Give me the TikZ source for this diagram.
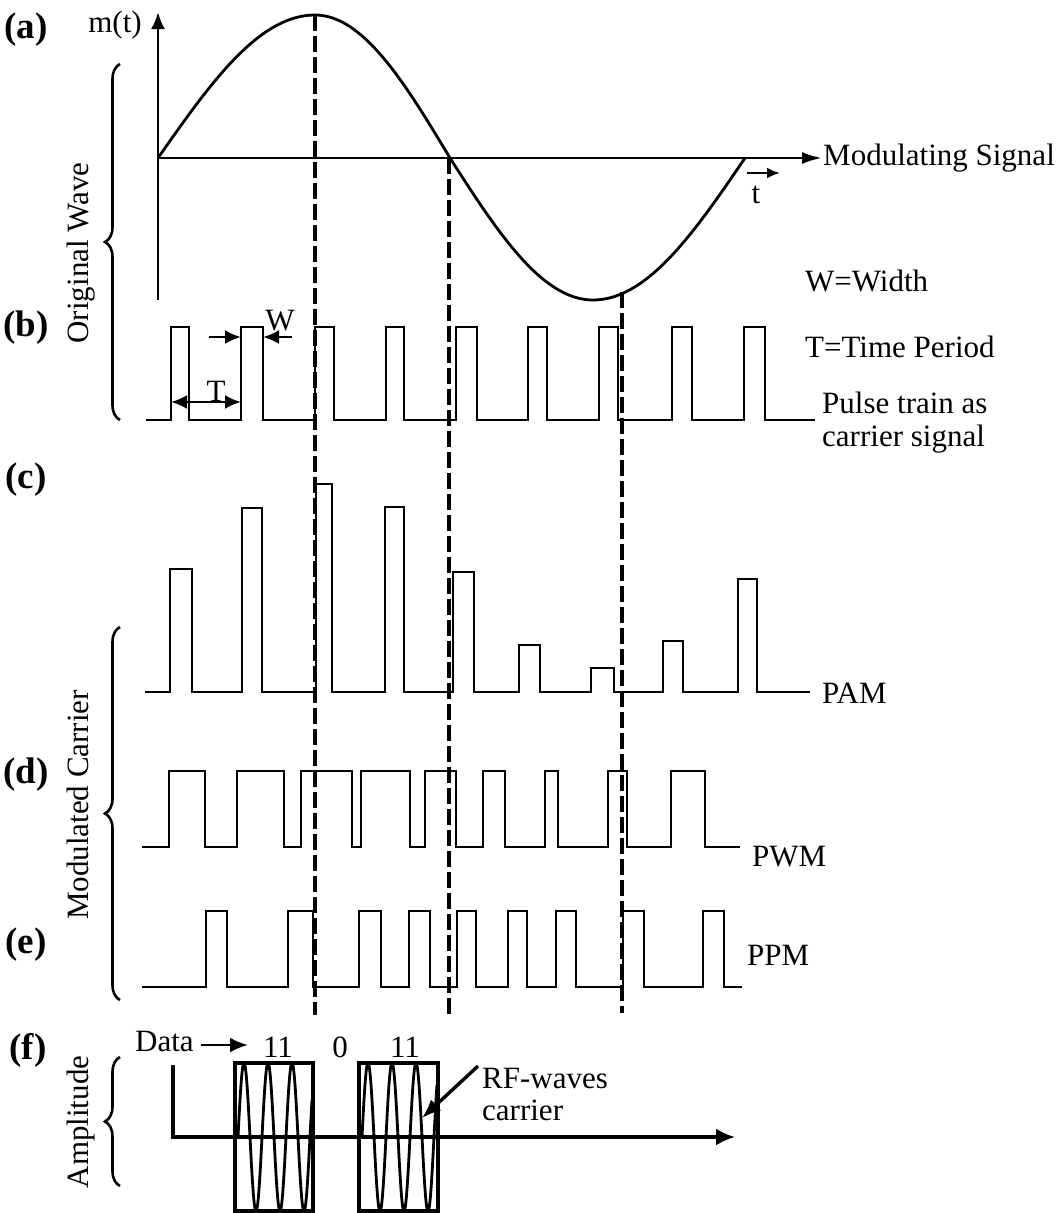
\documentclass[tikz,border=0pt]{standalone}
\usepackage{fontspec}
\setmainfont{Liberation Serif}
\usetikzlibrary{arrows.meta,decorations.pathreplacing}
\newcommand\pulsetrain[4]{%
  \draw[wave] (#1,#3) \foreach \xr/\xf/\yh in {#4} { -- (\xr,#3) -- (\xr,\yh) -- (\xf,\yh) -- (\xf,#3) } -- (#2,#3);}
\begin{document}
\begin{tikzpicture}[x=1pt,y=-1pt,
  wave/.style={line width=2.5pt, line join=miter},
  axis/.style={line width=2.8pt},
  guide/.style={line width=3.5pt, dash pattern=on 16pt off 5pt},
  lbl/.style={font=\fontsize{31}{36}\selectfont, inner sep=0pt},
  tag/.style={font=\fontsize{37}{42}\selectfont\bfseries, inner sep=0pt},
  side/.style={font=\fontsize{31}{36}\selectfont, inner sep=0pt, rotate=90, anchor=base},
  curly/.style={decorate, decoration={brace, amplitude=15pt}, line width=2.6pt},
  arr/.style={line width=2.5pt, -{Latex[length=16pt,width=14pt]}},
]
\useasboundingbox (0,0) rectangle (1063,1213);

% ---------- labels (a)-(f)
\node[tag] (la) at (26,30) {(a)};
\node[tag] (lb) at (26,328) {(b)};
\node[tag] (lc) at (26,480) {(c)};
\node[tag] (ld) at (26,775) {(d)};
\node[tag] (le) at (26,945) {(e)};
\node[tag] (lf) at (28,1050) {(f)};

% ---------- side labels and braces
\node[side] (ow) at (88,253) {Original Wave};
\draw[curly] (120,420) -- (120,64);
\node[side] (mc) at (88,805) {Modulated Carrier};
\draw[curly] (120,1000) -- (120,627);
\node[side] (am) at (88,1122) {Amplitude};
\draw[curly] (120,1186) -- (120,1057);

% ---------- (a) modulating signal
\draw[axis, -{Latex[length=17pt,width=14pt]}] (158,300) -- (158,12);
\draw[axis, -{Latex[length=20pt,width=12pt]}] (158,158) -- (822,158);
\node[lbl] (mt) at (115,25) {m(t)};
\node[lbl, anchor=base west] (ms) at (823,165) {Modulating Signal};
\node[lbl, anchor=base] (tt) at (756,203) {t};
\draw[line width=2.5pt, -{Latex[length=13pt,width=11pt]}] (747,173) -- (780,173);
\draw[line width=2.8pt]
  plot[domain=0:90, samples=40] ({158+1.7444*\x},{158-143*sin(\x)})
  -- plot[domain=90:180, samples=40] ({315+1.5*(\x-90)},{158-143*sin(\x)})
  -- plot[domain=180:270, samples=40] ({450+1.5889*(\x-180)},{158-142*sin(\x)})
  -- plot[domain=270:360, samples=40] ({593+1.6889*(\x-270)},{158-142*sin(\x)});

% ---------- (b) pulse train
\pulsetrain{146}{815}{420}{171/189/327, 241/263/327, 315/334/327, 386/404/327, 456/477/327, 528/547/327, 599/618/327, 672/692/327, 744/765/327}
\draw[arr] (209,337) -- (241,337);
\draw[arr] (292,337) -- (263,337);
\node[lbl, anchor=base] (w) at (280,330) {W};
\draw[line width=2.5pt, {Latex[length=16pt,width=14pt]}-{Latex[length=16pt,width=14pt]}] (171,402) -- (241,402);
\node[lbl, anchor=base] (tp) at (216,401) {T};
\node[lbl, anchor=base west] (ww) at (805,291) {W=Width};
\node[lbl, anchor=base west] (tw) at (805,357) {T=Time Period};
\node[lbl, anchor=base west] (pt) at (822,413) {Pulse train as};
\node[lbl, anchor=base west] (cs) at (822,446) {carrier signal};

% ---------- (c) PAM
\pulsetrain{145}{810}{692}{170/192/569, 242/262/508, 316/332/484, 385/404/507, 453/474/572, 519/540/645, 591/614/668, 663/683/641, 738/757/579}
\node[lbl, anchor=base west] (pam) at (822,703) {PAM};

% ---------- (d) PWM
\pulsetrain{142}{740}{847}{169/205/771, 237/284/771, 301/352/771, 361/410/771, 425/456/771, 483/505/771, 545/558/771, 608/627/771, 671/705/771}
\node[lbl, anchor=base west] (pwm) at (752,866) {PWM};

% ---------- (e) PPM
\pulsetrain{142}{742}{987}{206/227/911, 288/313/911, 359/381/911, 409/430/911, 457/476/911, 508/527/911, 556/576/911, 623/644/911, 703/724/911}
\node[lbl, anchor=base west] (ppm) at (747,965) {PPM};

% ---------- dashed guides
\draw[guide] (315,15) -- (315,1015);
\draw[guide] (449,158) -- (449,1015);
\draw[guide] (622,292) -- (622,1013);

% ---------- (f) ASK
\draw[line width=3.2pt, -{Latex[length=19pt,width=17pt]}] (173,1065) -- (173,1137) -- (735,1137);
\draw[line width=3.4pt] (235,1063) rectangle (313,1211);
\draw[line width=3.4pt] (359,1063) rectangle (438,1211);
\draw[line width=2.8pt] plot[domain=238:312, samples=150] (\x,{1137-74*sin(15*(\x-238))});
\draw[line width=2.8pt] plot[domain=362:437, samples=150] (\x,{1137-74*sin(15*(\x-362))});
\node[lbl, anchor=base west] (data) at (135,1051) {Data};
\coordinate (dtip) at (248,1045);
\draw[line width=2.8pt, -{Latex[length=18pt,width=15pt]}] (data.east |- dtip) ++(7,0) -- (dtip);
\node[lbl, anchor=base] (b1) at (278,1057) {11};
\node[lbl, anchor=base] (b0) at (340,1057) {0};
\node[lbl, anchor=base] (b2) at (405,1057) {11};
\node[lbl, anchor=base west] (rf) at (482,1088) {RF-waves};
\node[lbl, anchor=base west] (car) at (482,1120) {carrier};
\coordinate (rftip) at (422,1118);
\draw[line width=3.4pt, -{Latex[length=19pt,width=15pt]}] (rf.west) ++(-4,-12) -- (rftip);
\end{tikzpicture}
\end{document}
